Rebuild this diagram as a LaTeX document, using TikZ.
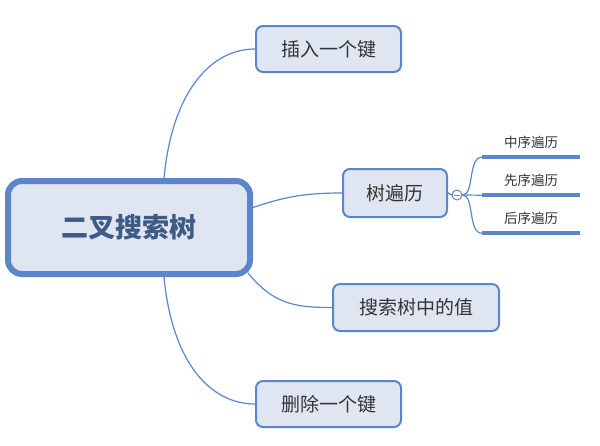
\documentclass[tikz,border=0pt]{standalone}
\usepackage{fontspec}
\newfontfamily\cjk{Noto Sans CJK SC}
\usetikzlibrary{positioning,calc}
\definecolor{mapblue}{HTML}{5B87C8}
\definecolor{mapfill}{HTML}{DFE5F1}
\definecolor{maptext}{HTML}{333333}
\definecolor{roottext}{HTML}{3E5A86}
\tikzstyle{every node}=[font=\cjk,text=maptext]
\tikzstyle{every path}=[line cap=round,line join=round]
\tikzstyle{rootbox}=[draw=mapblue,fill=mapfill,line width=6pt,rounded corners=14pt,
  minimum width=242pt,minimum height=93pt,inner sep=0pt,
  font=\cjk\bfseries\fontsize{27}{30}\selectfont,text=roottext]
\tikzstyle{topic}=[draw=mapblue,fill=mapfill,line width=2pt,rounded corners=7pt,
  minimum height=46pt,inner sep=0pt,font=\cjk\fontsize{19}{22}\selectfont]
\tikzstyle{leaf}=[minimum width=98pt,minimum height=30pt,inner sep=0pt,
  font=\cjk\fontsize{13.5}{16}\selectfont]
\tikzstyle{branch}=[draw=mapblue,line width=1.2pt]
\tikzstyle{leafline}=[draw=mapblue,line width=3.5pt,line cap=butt]

\begin{document}
\begin{tikzpicture}[x=1pt,y=-1pt]
\useasboundingbox (0,0) rectangle (600,445);
% main topic and subtopics
\node[rootbox] (root) at (129,227.5) {二叉搜索树};
\node[topic,minimum width=145pt] (insert) at (328.5,49) {插入一个键};
\node[topic,minimum width=104pt,minimum height=48pt] (trav) at (395,193) {树遍历};
\node[topic,minimum width=166pt,minimum height=47pt] (value) at (416,307.5) {搜索树中的值};
\node[topic,minimum width=145pt] (delete) at (328.5,404) {删除一个键};
% collapse marker and traversal leaves
\node[circle,draw=mapblue,fill=white,line width=1pt,minimum size=10pt,inner sep=0pt] (fold) at (457,195) {};
\draw[mapblue,line width=1pt] ($(fold.center)+(-2.5,0)$) -- ($(fold.center)+(2.5,0)$);
\node[leaf] (inorder) at (531,142) {中序遍历};
\node[leaf] (preorder) at (531,180) {先序遍历};
\node[leaf] (postorder) at (531,218) {后序遍历};
\draw[leafline] (inorder.south west) -- (inorder.south east);
\draw[leafline] (preorder.south west) -- (preorder.south east);
\draw[leafline] (postorder.south west) -- (postorder.south east);

\draw[branch] ($(root.north)+(35,0)$) .. controls +(8,-85) and +(-45,0) .. (insert.west);
\draw[branch] ($(root.south)+(35,0)$) .. controls +(8,85) and +(-45,0) .. (delete.west);
\draw[branch] ($(root.east)+(0,-20)$) .. controls +(30,-10) and +(-40,0) .. (trav.west);
\draw[branch] ($(root.south east)+(-5,-4)$) .. controls +(25,30) and +(-40,0) .. (value.west);
\draw[branch] (trav.east) -- (fold.west);
\draw[branch] (fold.east) .. controls +(12,0) and +(-14,0) .. (inorder.south west);
\draw[branch] (fold.east) -- (preorder.south west);
\draw[branch] (fold.east) .. controls +(12,0) and +(-14,0) .. (postorder.south west);
\end{tikzpicture}
\end{document}
